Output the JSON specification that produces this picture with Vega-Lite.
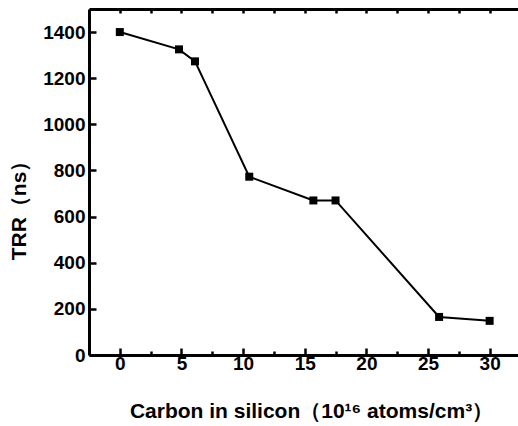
{
  "$schema": "https://vega.github.io/schema/vega-lite/v6.json",
  "autosize": "none",
  "padding": {"left": 89, "top": 9, "right": 0, "bottom": 71},
  "width": 429,
  "height": 346,
  "background": "white",
  "config": {
    "view": {"stroke": "#bbbbbb", "strokeWidth": 1},
    "axis": {
      "labelFont": "Liberation Sans",
      "labelFontWeight": "bold",
      "labelFontSize": 19,
      "labelColor": "black",
      "titleFont": "Liberation Sans",
      "titleFontWeight": "bold",
      "titleFontSize": 21,
      "titleColor": "black",
      "domainColor": "black",
      "domainWidth": 3,
      "tickColor": "black",
      "tickWidth": 2.5,
      "grid": false
    }
  },
  "data": {
    "values": [
      {"carbon": 0, "trr": 1400},
      {"carbon": 4.8, "trr": 1325},
      {"carbon": 6.1, "trr": 1273},
      {"carbon": 10.5, "trr": 773},
      {"carbon": 15.7, "trr": 670},
      {"carbon": 17.5, "trr": 670},
      {"carbon": 25.9, "trr": 165},
      {"carbon": 30, "trr": 148}
    ]
  },
  "resolve": {"axis": {"x": "independent"}},
  "layer": [
    {
      "mark": {"type": "line", "color": "black", "strokeWidth": 2},
      "encoding": {
        "x": {
          "field": "carbon", "type": "quantitative",
          "scale": {"domain": [-2.5, 32.3], "nice": false, "zero": false},
          "axis": {
            "orient": "bottom",
            "values": [0, 2.5, 5, 7.5, 10, 12.5, 15, 17.5, 20, 22.5, 25, 27.5, 30],
            "labelExpr": "datum.value % 5 === 0 ? datum.label : ''",
            "tickSize": -7,
            "tickDash": {"condition": {"test": "datum.value % 5 !== 0", "value": [4, 30]}, "value": [1, 0]},
            "labelPadding": 6,
            "title": "Carbon in silicon（10¹⁶ atoms/cm³）",
            "titleX": 222,
            "titleY": 62,
            "titleAlign": "center",
            "titleBaseline": "alphabetic"
          }
        },
        "y": {
          "field": "trr", "type": "quantitative",
          "scale": {"domain": [0, 1500], "nice": false},
          "axis": {
            "values": [0, 100, 200, 300, 400, 500, 600, 700, 800, 900, 1000, 1100, 1200, 1300, 1400, 1500],
            "labelExpr": "datum.value % 200 === 0 && datum.value < 1500 ? datum.label : ''",
            "format": "d",
            "tickSize": -7,
            "tickDash": {"condition": {"test": "datum.value % 200 !== 0", "value": [4, 30]}, "value": [1, 0]},
            "labelPadding": 11,
            "title": "TRR（ns）",
            "titleX": -70,
            "titleY": 196,
            "titleAngle": 270,
            "titleAlign": "center",
            "titleBaseline": "middle"
          }
        }
      }
    },
    {
      "mark": {"type": "point", "shape": "square", "filled": true, "color": "black", "size": 64, "opacity": 1},
      "encoding": {
        "x": {
          "field": "carbon", "type": "quantitative",
          "axis": {
            "orient": "top",
            "values": [0, 2.5, 5, 7.5, 10, 12.5, 15, 17.5, 20, 22.5, 25, 27.5, 30],
            "labels": false,
            "title": null,
            "tickSize": -4
          }
        },
        "y": {"field": "trr", "type": "quantitative"}
      }
    }
  ]
}
